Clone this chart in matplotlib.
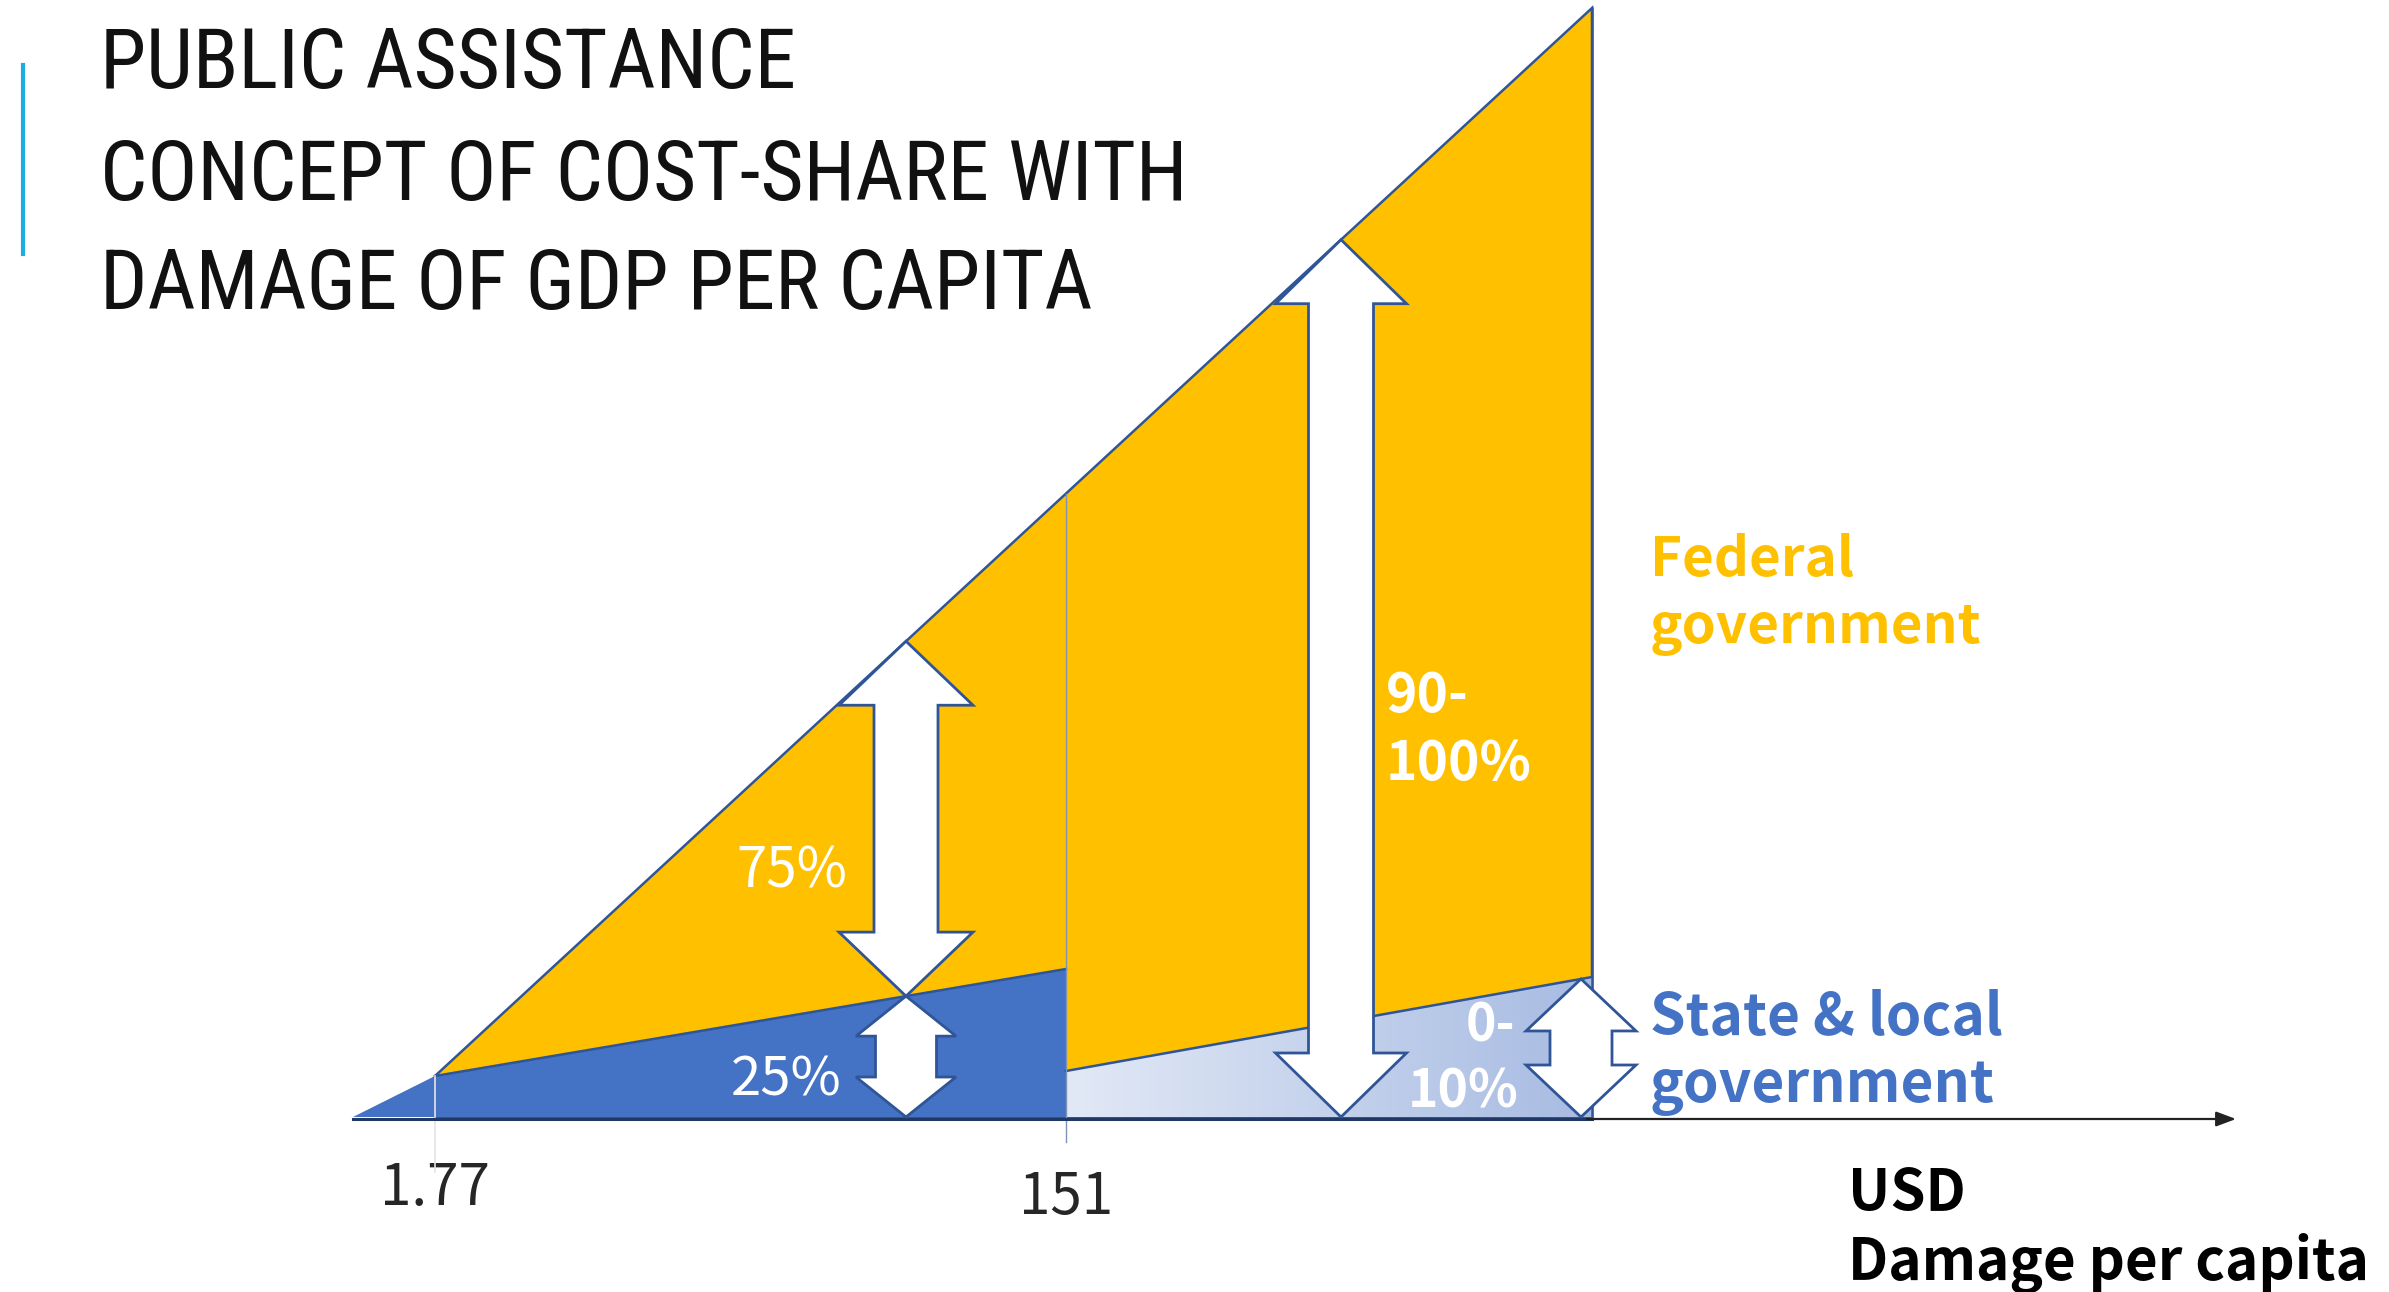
import numpy as np
import matplotlib
matplotlib.use("Agg")
import matplotlib.pyplot as plt
from matplotlib.patches import Polygon
from matplotlib.lines import Line2D
from matplotlib.colors import LinearSegmentedColormap

# ---------------- data (conceptual diagram units) ----------------
x_labels = ["1.77", "151"]
x_start, x_177, x_151, x_end, x_axis_end = 0, 82, 713, 1239, 1883
total_x = [x_177, x_end]
total_y = [41, 1109]                 # total damage line
state_x_before = [x_start, x_177, x_151]
state_y_before = [0, 41, 148]        # 25 % state & local share
state_x_after = [x_151, x_end]
state_y_after = [46, 140]            # 0-10 % state & local share
arrow_x = [553, 553, 988, 1228]
share_labels = ["75%", "25%", "90-\n100%", "0-\n10%"]

YELLOW = "#FFC000"
BLUE = "#4472C4"
EDGE = "#2F5597"

W, H = 2389, 1292
OX, OY = 353, 1117
fig = plt.figure(figsize=(W / 100, H / 100), dpi=100)
ax = fig.add_axes([0, 0, 1, 1])
ax.set_xlim(-OX, W - OX)
ax.set_ylim(-(H - OY), OY)
ax.axis("off")

def total_at(x):
    return np.interp(x, total_x, total_y)

# blue small triangle + blue 25% region
bx = state_x_before + [x_151, x_start]
by = state_y_before + [0, 0]
# yellow region
yx = [x_177, x_end, x_end, x_177]
yy = [total_y[0], total_y[1], 0, 0]
ax.add_patch(Polygon(list(zip(yx, yy)), closed=True, facecolor=YELLOW,
                     edgecolor=EDGE, lw=1.8, zorder=2))
ax.add_patch(Polygon(list(zip(bx, by)), closed=True, facecolor=BLUE,
                     edgecolor="none", lw=0, zorder=3))
ax.plot(state_x_before[1:], state_y_before[1:], color=EDGE, lw=1.8, zorder=4)

# light blue gradient region
lx = [x_151, x_end, x_end, x_151]
ly = [state_y_after[0], state_y_after[1], 0, 0]
lpoly = Polygon(list(zip(lx, ly)), closed=True, facecolor="none",
                edgecolor="none", zorder=3)
ax.add_patch(lpoly)
cmap = LinearSegmentedColormap.from_list("lb", ["#E2E9F6", "#A7BBE2"])
grad = np.linspace(0, 1, 256).reshape(1, -1)
im = ax.imshow(grad, cmap=cmap, extent=[x_151, x_end, 0, max(state_y_after)],
               aspect="auto", zorder=3, interpolation="bilinear")
im.set_clip_path(lpoly)
ax.plot(state_x_after, state_y_after, color=EDGE, lw=1.8, zorder=4)
ax.plot([x_end, x_end], [0, total_y[1]], color=EDGE, lw=1.8, zorder=4)

# vertical reference lines
ax.plot([x_151, x_151], [-25, total_at(x_151)], color="#7F93B8", lw=1.0, zorder=5)
ax.plot([x_177, x_177], [-55, total_y[0]], color="#E4E4E4", lw=1.2, zorder=5)

# horizontal axis with arrow
ax.plot([x_start, x_end], [-2, -2], color="#1F3864", lw=2.2, zorder=5)
ax.annotate("", xy=(x_axis_end, -2), xytext=(x_end - 5, -2),
            arrowprops=dict(arrowstyle="-|>,head_length=1.2,head_width=0.45",
                            color="#222222", lw=1.6, shrinkA=0, shrinkB=0),
            zorder=5)

# double-headed block arrows
def block_arrow(x, y0, y1, hl, hw, sw):
    pts = [(x, y1), (x + hw / 2, y1 - hl), (x + sw / 2, y1 - hl),
           (x + sw / 2, y0 + hl), (x + hw / 2, y0 + hl), (x, y0),
           (x - hw / 2, y0 + hl), (x - sw / 2, y0 + hl),
           (x - sw / 2, y1 - hl), (x - hw / 2, y1 - hl)]
    ax.add_patch(Polygon(pts, closed=True, facecolor="white", edgecolor=EDGE,
                         lw=2.0, zorder=6, joinstyle="miter"))

s553 = np.interp(arrow_x[0], state_x_before, state_y_before)
block_arrow(arrow_x[0], s553, total_at(arrow_x[0]), 64, 134, 64)
block_arrow(arrow_x[1], 0, s553, 40, 100, 61)
block_arrow(arrow_x[2], 0, total_at(arrow_x[2]), 64, 131, 65)
block_arrow(arrow_x[3], 0, np.interp(arrow_x[3], state_x_after, state_y_after), 52, 110, 62)

# ---------------- text ----------------
fig.canvas.draw()
renderer = fig.canvas.get_renderer()

def fit(t, width_px):
    bb = t.get_window_extent(renderer)
    t.set_fontsize(t.get_fontsize() * width_px / bb.width)
    return t

LAB = ["Noto Sans CJK JP", "DejaVu Sans"]

# share labels
t1 = ax.text(383, 230, share_labels[0], color="white", fontsize=30, family=LAB,
             ha="left", va="baseline", zorder=7)
fit(t1, 111)
t2 = ax.text(378, 21, share_labels[1], color="white", fontsize=30, family=LAB,
             ha="left", va="baseline", zorder=7)
fit(t2, 111)
a, b = share_labels[2].split("\n")
t3a = ax.text(1033, 405, a, color="white", fontsize=30, family=LAB,
              weight="bold", ha="left", va="baseline", zorder=7)
t3b = ax.text(1033, 337, b, color="white", fontsize=30, family=LAB,
              weight="bold", ha="left", va="baseline", zorder=7)
fit(t3b, 146)
t3a.set_fontsize(t3b.get_fontsize())
a, b = share_labels[3].split("\n")
t4a = ax.text(1113, 76, a, color="white", fontsize=30, family=LAB,
              weight="bold", ha="left", va="baseline", zorder=7)
t4b = ax.text(1055, 9, b, color="white", fontsize=30, family=LAB,
              weight="bold", ha="left", va="baseline", zorder=7)
fit(t4b, 111)
t4a.set_fontsize(t4b.get_fontsize())

# group labels
f1 = ax.text(1297, 541, "Federal", color=YELLOW, fontsize=30, family=LAB,
             weight="bold", ha="left", va="baseline")
f2 = ax.text(1297, 474, "government", color=YELLOW, fontsize=30, family=LAB,
             weight="bold", ha="left", va="baseline")
fit(f2, 331)
f1.set_fontsize(f2.get_fontsize())
s1 = ax.text(1297, 82, "State & local", color=BLUE, fontsize=30, family=LAB,
             weight="bold", ha="left", va="baseline")
s2 = ax.text(1297, 15, "government", color=BLUE, fontsize=30, family=LAB,
             weight="bold", ha="left", va="baseline")
fit(s1, 353)
s2.set_fontsize(s1.get_fontsize())

# axis labels
u1 = ax.text(1495, -94, "USD", color="black", fontsize=30, family=LAB,
             weight="bold", ha="left", va="baseline")
u2 = ax.text(1495, -163, "Damage per capita", color="black", fontsize=30,
             family=LAB, weight="bold", ha="left", va="baseline")
fit(u2, 521)
u1.set_fontsize(u2.get_fontsize())

k1 = ax.text(x_177, -88, x_labels[0], color="#262626", fontsize=30, family=LAB,
             weight="normal", ha="center", va="baseline")
fit(k1, 110)
k2 = ax.text(x_151, -97, x_labels[1], color="#262626", fontsize=30, family=LAB,
             weight="normal", ha="center", va="baseline")
k2.set_fontsize(k1.get_fontsize())

# title
TF = ["Liberation Sans Narrow", "DejaVu Sans Condensed", "Roboto Condensed",
      "Liberation Sans", "DejaVu Sans"]
title_lines = ["PUBLIC ASSISTANCE", "CONCEPT OF COST-SHARE WITH",
               "DAMAGE OF GDP PER CAPITA"]
title_base = [88, 200, 309]
tts = []
for line, yb in zip(title_lines, title_base):
    tts.append(fig.text(100 / W, 1 - yb / H, line, color="#111111",
                        fontsize=60, family=TF, ha="left", va="baseline"))
fit(tts[1], 1088)
for t in tts:
    t.set_fontsize(tts[1].get_fontsize())

fig.add_artist(Line2D([23 / W, 23 / W], [1 - 65 / H, 1 - 254 / H],
                      color="#1CADE4", lw=3))

fig.savefig("out.png", dpi=100, facecolor="white")
